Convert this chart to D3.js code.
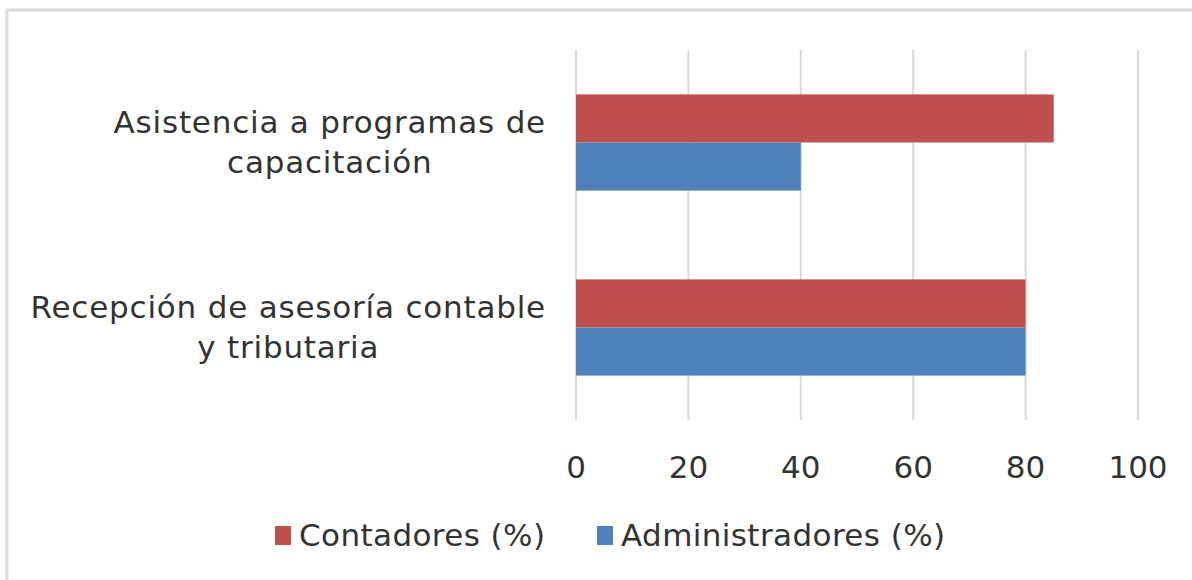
<!DOCTYPE html>
<html lang="es">
<head>
<meta charset="UTF-8">
<title>Chart</title>
<script src="https://d3js.org/d3.v7.min.js"></script>
<style>
  body { margin: 0; background: #fff; }
  text { font-family: "DejaVu Sans", sans-serif; fill: #333; letter-spacing: 0.8px; }
  .tick-label { letter-spacing: 0; }
  .legend-label { letter-spacing: 0.4px; }
</style>
</head>
<body>
<svg class="chart"></svg>
<script>
const categories = [
  ["Asistencia a programas de", "capacitación"],
  ["Recepción de asesoría contable", "y tributaria"]
];
const seriesNames = ["Contadores (%)", "Administradores (%)"];
const contadores = [85, 80];
const administradores = [40, 80];
const ticks = [0, 20, 40, 60, 80, 100];
const colors = ["#C0504D", "#4F81BD"];

const W = 1192, H = 580;
const fs = 31;
const svg = d3.select(".chart").attr("width", W).attr("height", H);

// outer frame
svg.append("rect")
  .attr("x", 7).attr("y", 10).attr("width", W + 10).attr("height", H + 10)
  .attr("fill", "none").attr("stroke", "#d9d9d9").attr("stroke-width", 3);

const x = d3.scaleLinear().domain([0, 100]).range([576, 1138]);
const y = d3.scaleBand().domain(d3.range(categories.length)).range([50, 420]).paddingInner(0.48).paddingOuter(0.24);
const ySub = d3.scaleBand().domain([0, 1]).range([0, y.bandwidth()]);

// gridlines
svg.append("g").selectAll("line").data(ticks).join("line")
  .attr("x1", d => x(d)).attr("x2", d => x(d))
  .attr("y1", 50).attr("y2", 420)
  .attr("stroke", "#d9d9d9").attr("stroke-width", 2);

const series = [contadores, administradores];
series.forEach((vals, s) => {
  svg.append("g").selectAll("rect").data(vals).join("rect")
    .attr("x", x(0))
    .attr("y", (d, i) => y(i) + ySub(s))
    .attr("width", d => x(d) - x(0))
    .attr("height", ySub.bandwidth())
    .attr("fill", colors[s]);
});

// category labels: block right-aligned to the axis, lines centred in the block
const labels = svg.append("g").selectAll("text").data(categories).join("text")
  .attr("text-anchor", "middle")
  .attr("font-size", fs);
labels.each(function (lines, i) {
  const c = y(i) + y.bandwidth() / 2;
  const t = d3.select(this);
  const spans = t.selectAll("tspan").data(lines).join("tspan")
    .attr("y", (d, j) => c - 10 + j * 40)
    .text(d => d);
  let maxW = 0;
  spans.each(function () { maxW = Math.max(maxW, this.getComputedTextLength()); });
  spans.attr("x", 546 - maxW / 2);
});

// x axis labels
svg.append("g").selectAll("text").data(ticks).join("text")
  .attr("class", "tick-label")
  .attr("x", d => x(d)).attr("y", 478)
  .attr("text-anchor", "middle").attr("font-size", fs)
  .text(d => d);

// legend
const legendX = [275, 597];
const lg = svg.append("g").selectAll("g").data(seriesNames).join("g")
  .attr("transform", (d, i) => `translate(${legendX[i]},0)`);
lg.append("rect").attr("x", 0).attr("y", 526).attr("width", 16).attr("height", 19)
  .attr("fill", (d, i) => colors[i]);
lg.append("text").attr("class", "legend-label")
  .attr("x", 24).attr("y", 546).attr("font-size", fs).text(d => d);
</script>
</body>
</html>
